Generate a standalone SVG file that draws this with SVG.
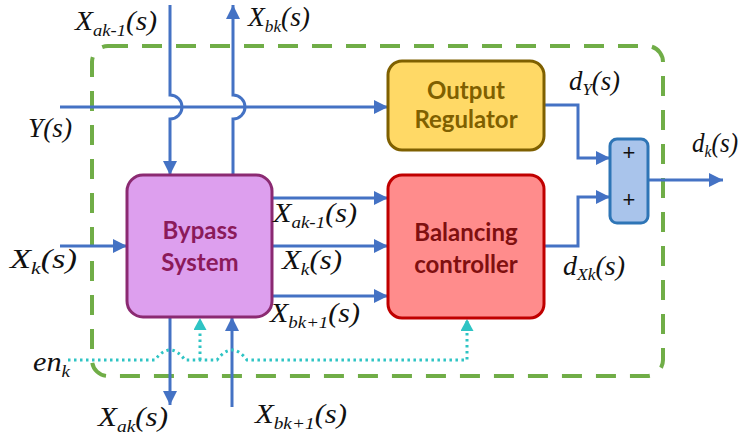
<svg xmlns="http://www.w3.org/2000/svg" width="740" height="440" viewBox="0 0 740 440">
<style>
.ln{fill:none;stroke:#4472c4;stroke-width:3}
.en{fill:none;stroke:#2ec4c4;stroke-width:3;stroke-dasharray:2.5 3.5}
.lbl{font-family:"Liberation Serif",serif;font-style:italic;font-size:27px;fill:#111}
.sub{font-size:17px}
.bt{font-family:Lato,"Liberation Sans",sans-serif;font-weight:bold;font-size:24px;text-anchor:middle}
</style>
<defs>
<marker id="ab" markerUnits="userSpaceOnUse" markerWidth="16" markerHeight="16" refX="14" refY="7" orient="auto"><path d="M0,0 L14,7 L0,14 z" fill="#4472c4"/></marker>
<marker id="ac" markerUnits="userSpaceOnUse" markerWidth="16" markerHeight="16" refX="12" refY="6.5" orient="auto"><path d="M0,0 L12,6.5 L0,13 z" fill="#2ec4c4"/></marker>
</defs>
<rect x="92" y="46" width="571" height="330" rx="16" fill="none" stroke="#70ad47" stroke-width="4" stroke-dasharray="20 14"/>
<g id="connectors">
<path class="ln" d="M170,5 V95 A12,12 0 0 1 170,119 V175" marker-end="url(#ab)"/>
<path class="ln" d="M233,175 V119 A12,12 0 0 0 233,95 V5" marker-end="url(#ab)"/>
<path class="ln" d="M60,107 H388" marker-end="url(#ab)"/>
<path class="ln" d="M60,246 H127" marker-end="url(#ab)"/>
<path class="ln" d="M272,198 H388" marker-end="url(#ab)"/>
<path class="ln" d="M272,246 H388" marker-end="url(#ab)"/>
<path class="ln" d="M272,296 H388" marker-end="url(#ab)"/>
<path class="ln" d="M170,317 V405" marker-end="url(#ab)"/>
<path class="ln" d="M232,407 V317" marker-end="url(#ab)"/>
<path class="ln" d="M544,105 H578 V158 H610" marker-end="url(#ab)"/>
<path class="ln" d="M544,246 H578 V197 H610" marker-end="url(#ab)"/>
<path class="ln" d="M648,180 H723" marker-end="url(#ab)"/>
<path class="en" d="M68,360 H155 Q170,340 185,360 H217 Q232,340 247,360 H467 V319" marker-end="url(#ac)"/>
<path class="en" d="M200,360 V318" marker-end="url(#ac)"/>
</g>
<g id="bypass">
<rect x="127" y="175" width="145" height="142" rx="16" fill="#dd9fee" stroke="#8b2a72" stroke-width="3"/>
<text class="bt" x="200" y="239" fill="#8b1a5a">Bypass</text>
<text class="bt" x="200" y="271" fill="#8b1a5a">System</text>
</g>
<g id="balancing">
<rect x="388" y="175" width="156" height="143" rx="14" fill="#ff8c8c" stroke="#c00000" stroke-width="3"/>
<text class="bt" x="466" y="241" fill="#7f1010">Balancing</text>
<text class="bt" x="466" y="273" fill="#7f1010">controller</text>
</g>
<g id="output">
<rect x="388" y="61" width="156" height="89" rx="14" fill="#ffd966" stroke="#7f6000" stroke-width="3"/>
<text class="bt" x="466" y="99" fill="#7f6000">Output</text>
<text class="bt" x="466" y="128" fill="#7f6000">Regulator</text>
</g>
<g id="sum">
<rect x="610" y="139" width="38" height="84" rx="7" fill="#a9c4eb" stroke="#2e75b6" stroke-width="3"/>
<text x="629" y="160" font-family="Liberation Sans,sans-serif" font-size="22" text-anchor="middle" fill="#111">+</text>
<text x="629" y="207" font-family="Liberation Sans,sans-serif" font-size="22" text-anchor="middle" fill="#111">+</text>
</g>
<g id="labels">
<text class="lbl" x="75" y="30" textLength="82" lengthAdjust="spacingAndGlyphs">X<tspan class="sub" dy="6">ak-1</tspan><tspan dy="-6">(s)</tspan></text>
<text class="lbl" x="248" y="26" textLength="62" lengthAdjust="spacingAndGlyphs">X<tspan class="sub" dy="6">bk</tspan><tspan dy="-6">(s)</tspan></text>
<text class="lbl" x="28" y="137" textLength="44" lengthAdjust="spacingAndGlyphs">Y(s)</text>
<text class="lbl" x="10" y="268" textLength="67" lengthAdjust="spacingAndGlyphs">X<tspan class="sub" dy="6">k</tspan><tspan dy="-6">(s)</tspan></text>
<text class="lbl" x="273" y="222" textLength="84" lengthAdjust="spacingAndGlyphs">X<tspan class="sub" dy="6">ak-1</tspan><tspan dy="-6">(s)</tspan></text>
<text class="lbl" x="282" y="269" textLength="60" lengthAdjust="spacingAndGlyphs">X<tspan class="sub" dy="6">k</tspan><tspan dy="-6">(s)</tspan></text>
<text class="lbl" x="270" y="322" textLength="90" lengthAdjust="spacingAndGlyphs">X<tspan class="sub" dy="6">bk+1</tspan><tspan dy="-6">(s)</tspan></text>
<text class="lbl" x="98" y="426" textLength="70" lengthAdjust="spacingAndGlyphs">X<tspan class="sub" dy="6">ak</tspan><tspan dy="-6">(s)</tspan></text>
<text class="lbl" x="255" y="423" textLength="92" lengthAdjust="spacingAndGlyphs">X<tspan class="sub" dy="6">bk+1</tspan><tspan dy="-6">(s)</tspan></text>
<text class="lbl" x="33" y="371" textLength="37" lengthAdjust="spacingAndGlyphs">en<tspan class="sub" dy="6">k</tspan></text>
<text class="lbl" x="569" y="90" textLength="51" lengthAdjust="spacingAndGlyphs">d<tspan class="sub" dy="5">Y</tspan><tspan dy="-5">(s)</tspan></text>
<text class="lbl" x="692" y="152" textLength="46" lengthAdjust="spacingAndGlyphs">d<tspan class="sub" dy="5">k</tspan><tspan dy="-5">(s)</tspan></text>
<text class="lbl" x="563" y="275" textLength="62" lengthAdjust="spacingAndGlyphs">d<tspan class="sub" dy="5">Xk</tspan><tspan dy="-5">(s)</tspan></text>
</g>
</svg>
